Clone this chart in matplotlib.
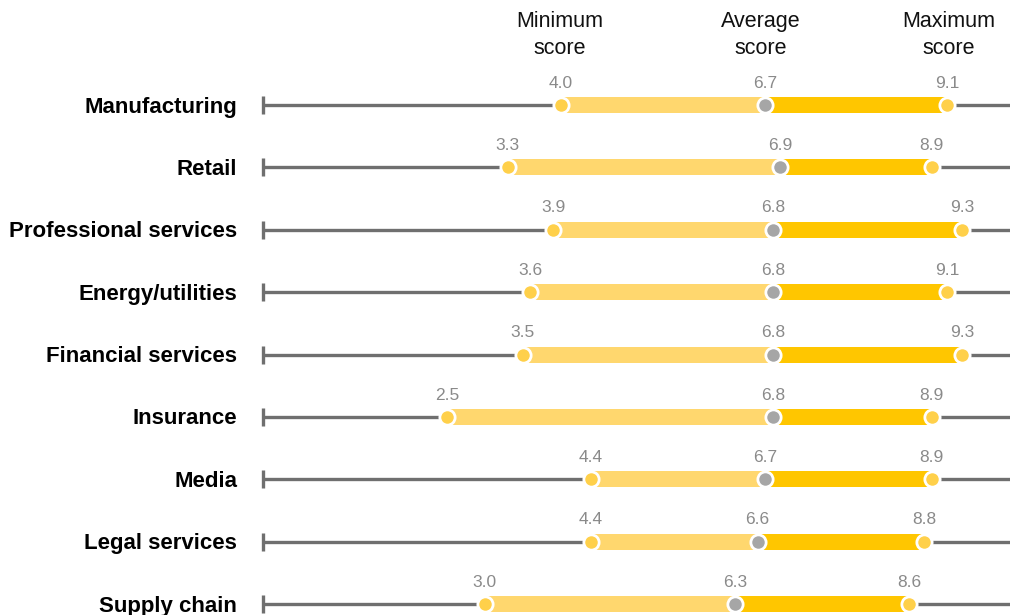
import matplotlib
matplotlib.use("Agg")
import matplotlib.pyplot as plt

categories = ["Manufacturing", "Retail", "Professional services", "Energy/utilities",
              "Financial services", "Insurance", "Media", "Legal services", "Supply chain"]
min_scores = [4.0, 3.3, 3.9, 3.6, 3.5, 2.5, 4.4, 4.4, 3.0]
avg_scores = [6.7, 6.9, 6.8, 6.8, 6.8, 6.8, 6.7, 6.6, 6.3]
max_scores = [9.1, 8.9, 9.3, 9.1, 9.3, 8.9, 8.9, 8.8, 8.6]
headers = ["Minimum\nscore", "Average\nscore", "Maximum\nscore"]

plt.rcParams['font.family'] = ['Liberation Sans', 'DejaVu Sans']

W, H = 1010, 615
fig = plt.figure(figsize=(W / 100, H / 100), dpi=100)
left_px = 257.7
unit_px = 75.74
ax = fig.add_axes([left_px / W, 0, 10 * unit_px / W, 1])
row0_px, step_px = 105, 62.4
ax.set_xlim(0, 10)
ax.set_ylim((H - row0_px) / step_px, -row0_px / step_px)
ax.axis('off')

light = '#FFD76E'
mid = '#FFD04A'
dark = '#FFC600'
gray_line = '#6F6F6F'
gray_dot = '#A6A6A6'
label_gray = '#8A8A8A'

x_start = (263 - left_px) / unit_px
bar_h = 16 / step_px
for i, (cat, mn, av, mx) in enumerate(zip(categories, min_scores, avg_scores, max_scores)):
    ax.plot([x_start, 10], [i, i], color=gray_line, lw=2.4, solid_capstyle='butt', zorder=1)
    ax.plot([x_start, x_start], [i - 9 / step_px, i + 9 / step_px], color=gray_line, lw=2.4,
            solid_capstyle='butt', zorder=1)
    ax.barh(i, av - mn, left=mn, height=bar_h, color=light, zorder=2)
    ax.barh(i, mx - av, left=av, height=bar_h, color=dark, zorder=2)
    ax.plot([mn, mx], [i, i], 'o', ms=11, mfc=mid, mec='white', mew=2, zorder=4)
    ax.plot([av], [i], 'o', ms=11, mfc=gray_dot, mec='white', mew=2, zorder=4)
    for v in (mn, av, mx):
        ax.text(v, i - 22 / step_px, f"{v:.1f}", ha='center', va='center',
                fontsize=12.5, color=label_gray)
    fig.text(237 / W, 1 - (row0_px + 2 + i * step_px) / H, cat, ha='right', va='center',
             fontsize=16, fontweight='bold', color='black')

header_x = [560, 761, 949]
for hx, h in zip(header_x, headers):
    fig.text(hx / W, 1 - 35 / H, h, ha='center', va='center', fontsize=15.5,
             color='#111111', linespacing=1.4)

fig.savefig('out.png', dpi=100)
